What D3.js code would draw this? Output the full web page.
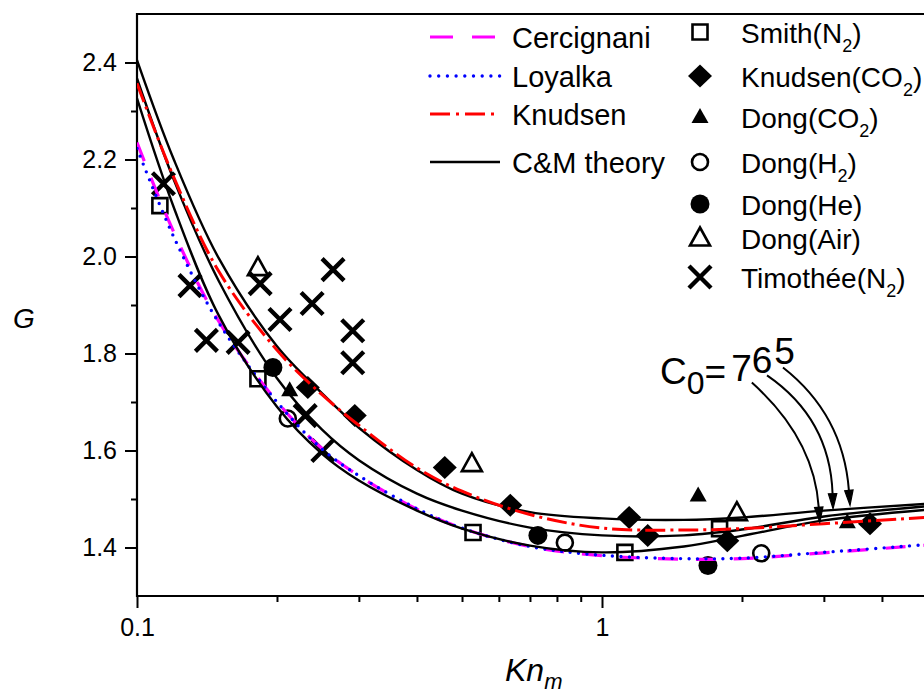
<!DOCTYPE html>
<html><head><meta charset="utf-8">
<script src="https://cdn.jsdelivr.net/npm/d3@7"></script>
<style>
body{margin:0;background:#fff}
svg{display:block}
text{font-family:"Liberation Sans",Arial,sans-serif;fill:#000}
</style>
</head><body>
<svg id="chart" width="924" height="694"></svg>
<script>
// ---------- data ----------
const knGrid      = [0.1, 0.12, 0.15, 0.2, 0.25, 0.3, 0.4, 0.5, 0.7, 1, 1.5, 2, 3, 5];
const cercignaniG = [2.235, 2.050, 1.866, 1.701, 1.604, 1.548, 1.479, 1.440, 1.402, 1.383, 1.376, 1.377, 1.389, 1.405];
const loyalkaG    = [2.223, 2.040, 1.863, 1.700, 1.603, 1.548, 1.480, 1.440, 1.402, 1.384, 1.377, 1.378, 1.390, 1.406];
const knudsenG    = [2.357, 2.163, 1.969, 1.807, 1.715, 1.652, 1.564, 1.516, 1.468, 1.440, 1.436, 1.439, 1.449, 1.462];
const cm5G        = [2.405, 2.200, 1.996, 1.815, 1.718, 1.647, 1.560, 1.511, 1.473, 1.460, 1.457, 1.462, 1.476, 1.490];
const cm6G        = [2.367, 2.158, 1.949, 1.749, 1.643, 1.580, 1.511, 1.476, 1.441, 1.425, 1.425, 1.437, 1.464, 1.485];
const cm7G        = [2.326, 2.101, 1.878, 1.690, 1.593, 1.538, 1.476, 1.439, 1.404, 1.390, 1.402, 1.424, 1.456, 1.478];

const smithN2    = [[0.112,2.105],[0.182,1.748],[0.528,1.431],[1.12,1.39],[1.79,1.439]];
const knudsenCO2 = [[0.233,1.73],[0.294,1.672],[0.459,1.565],[0.635,1.487],[1.144,1.462],[1.254,1.425],[1.86,1.414],[3.77,1.449]];
const dongCO2    = [[0.213,1.724],[1.61,1.507],[3.37,1.452]];
const dongH2     = [[0.211,1.666],[0.832,1.41],[2.2,1.388]];
const dongHe     = [[0.196,1.771],[0.728,1.425],[1.69,1.363]];
const dongAir    = [[0.182,1.977],[0.525,1.573],[1.95,1.472]];
const timotheeN2 = [[0.114,2.15],[0.130,1.94],[0.141,1.827],[0.165,1.823],[0.184,1.944],[0.203,1.87],[0.238,1.903],[0.264,1.973],[0.291,1.847],[0.291,1.781],[0.23,1.672],[0.251,1.60]];

const yMajorTicks = [1.4, 1.6, 1.8, 2.0, 2.2, 2.4];
const yMinorTicks = [1.5, 1.7, 1.9, 2.1, 2.3];
const xMajorTicks = [0.1, 1];
const xMinorTicks = [0.2,0.3,0.4,0.5,0.6,0.7,0.8,0.9,2,3,4];

// annotation arrows (data coords): start, control, end
const arrowsC0 = [
  {c0:7, p0:[2.10,1.740], c:[2.857,1.625], p2:[2.94,1.452]},
  {c0:6, p0:[2.264,1.755], c:[3.093,1.666], p2:[3.14,1.480]},
  {c0:5, p0:[2.45,1.771], c:[3.30,1.674], p2:[3.415,1.487]}
];
const annotAnchor = [1.333, 1.738];

// ---------- chart ----------
const svg = d3.select("#chart");
svg.append("rect").attr("width",924).attr("height",694).attr("fill","#fff");

const x = d3.scaleLog().domain([0.1, 5]).range([137, 137 + 465*Math.log10(50)]);
const y = d3.scaleLinear().domain([1.3, 2.5]).range([596, 14]);
const X0 = 137, XR = 924, YT = 14, YB = 596;

svg.append("defs").append("clipPath").attr("id","plotclip")
  .append("rect").attr("x",X0).attr("y",YT).attr("width",XR-X0).attr("height",YB-YT);

// axes
function styleAxis(g){
  g.select(".domain").remove();
  g.selectAll(".tick line").attr("stroke","#000").attr("stroke-width",2);
  g.selectAll(".tick text").attr("font-size",25).attr("font-family","'Liberation Sans',Arial,sans-serif").attr("fill","#000");
}
svg.append("g").attr("transform",`translate(${X0},0)`)
  .call(d3.axisLeft(y).tickValues(yMajorTicks).tickSize(12).tickPadding(8).tickFormat(d3.format(".1f")))
  .call(styleAxis);
svg.append("g").attr("transform",`translate(${X0},0)`)
  .call(d3.axisLeft(y).tickValues(yMinorTicks).tickSize(6).tickFormat(""))
  .call(styleAxis);
svg.append("g").attr("transform",`translate(0,${YB})`)
  .call(d3.axisBottom(x).tickValues(xMajorTicks).tickSize(12).tickPadding(10).tickFormat(d => d < 0.5 ? "0.1" : "1"))
  .call(styleAxis);
svg.append("g").attr("transform",`translate(0,${YB})`)
  .call(d3.axisBottom(x).tickValues(xMinorTicks).tickSize(6).tickFormat(""))
  .call(styleAxis);

// frame
const frame = svg.append("g").attr("stroke","#000").attr("stroke-width",2.2).attr("fill","none");
frame.append("line").attr("x1",X0).attr("x2",XR).attr("y1",YT).attr("y2",YT);
frame.append("line").attr("x1",X0).attr("x2",X0).attr("y1",YT-1).attr("y2",YB+1);
frame.append("line").attr("x1",X0-1).attr("x2",XR).attr("y1",YB).attr("y2",YB);

// axis labels
svg.append("text").attr("x",13).attr("y",328).attr("font-size",28).attr("font-style","italic").text("G");
const xl = svg.append("text").attr("x",505).attr("y",681).attr("font-size",32).attr("font-style","italic");
xl.append("tspan").text("Kn");
xl.append("tspan").attr("dy",8).attr("font-size",22).text("m");

// markers
function markerPath(type){
  const circ = r => `M${r},0A${r},${r} 0 1,1 ${-r},0A${r},${r} 0 1,1 ${r},0Z`;
  switch(type){
    case "square": return "M-7.5,-7.5H7.5V7.5H-7.5Z";
    case "diamond": return "M0,-11.5L12,0L0,11.5L-12,0Z";
    case "tri": return "M0,-9L8.5,6H-8.5Z";
    case "otri": return "M0,-10.5L10,7.5H-10Z";
    case "ocirc": return circ(8);
    case "fcirc": return circ(9.5);
    case "x": return "M-11,-11L11,11M11,-11L-11,11";
  }
}
const markerStyle = {
  square:{fill:"none",stroke:"#000",sw:2.6},
  diamond:{fill:"#000",stroke:"none",sw:0},
  tri:{fill:"#000",stroke:"none",sw:0},
  otri:{fill:"none",stroke:"#000",sw:2.6},
  ocirc:{fill:"none",stroke:"#000",sw:2.6},
  fcirc:{fill:"#000",stroke:"none",sw:0},
  x:{fill:"none",stroke:"#000",sw:4.4}
};
const markerSeries = [
  {name:"Smith", sub:"N", subn:"2", type:"square", data:smithN2},
  {name:"Knudsen", sub:"CO", subn:"2", type:"diamond", data:knudsenCO2},
  {name:"Dong", sub:"CO", subn:"2", type:"tri", data:dongCO2},
  {name:"Dong", sub:"H", subn:"2", type:"ocirc", data:dongH2},
  {name:"Dong", sub:"He", subn:"", type:"fcirc", data:dongHe},
  {name:"Dong", sub:"Air", subn:"", type:"otri", data:dongAir},
  {name:"Timothée", sub:"N", subn:"2", type:"x", data:timotheeN2}
];
function drawMarker(sel, type){
  const st = markerStyle[type];
  sel.attr("d", markerPath(type)).attr("fill",st.fill).attr("stroke",st.stroke)
     .attr("stroke-width",st.sw).attr("stroke-linejoin","miter");
}
const gm = svg.append("g");
markerSeries.forEach(s => {
  gm.selectAll(null).data(s.data).enter().append("path")
    .attr("transform", d => `translate(${x(d[0])},${y(d[1])})`)
    .call(drawMarker, s.type);
});

// lines
const lineGen = d3.line().x(d => x(d[0])).y(d => y(d[1])).curve(d3.curveCatmullRom.alpha(0.5));
const lineSeries = [
  {name:"Cercignani", vals:cercignaniG, color:"#ff00ff", w:3.2, dash:"20,18", cap:"butt"},
  {name:"Loyalka", vals:loyalkaG, color:"#0000ff", w:3.4, dash:"0,8.5", cap:"round"},
  {name:"C&M5", vals:cm5G, color:"#000", w:2.4, dash:null, cap:"butt"},
  {name:"C&M6", vals:cm6G, color:"#000", w:2.4, dash:null, cap:"butt"},
  {name:"C&M7", vals:cm7G, color:"#000", w:2.4, dash:null, cap:"butt"},
  {name:"Knudsen", vals:knudsenG, color:"#ff0000", w:3, dash:"20,5,3,5", cap:"butt"}
];
const gl = svg.append("g").attr("clip-path","url(#plotclip)");
lineSeries.forEach(s => {
  gl.append("path").datum(knGrid.map((k,i)=>[k, s.vals[i]]))
    .attr("d", lineGen).attr("fill","none").attr("stroke",s.color)
    .attr("stroke-width",s.w).attr("stroke-dasharray",s.dash).attr("stroke-linecap",s.cap);
});

// annotation
const an = svg.append("text").attr("x",x(annotAnchor[0])).attr("y",y(annotAnchor[1])).attr("font-size",37);
an.append("tspan").text("C");
an.append("tspan").attr("dy",10).attr("font-size",32).text("0");
an.append("tspan").attr("dy",-10).text("=");
an.append("tspan").attr("dx",5).attr("dy",-3).text("7");
an.append("tspan").attr("dy",-8).text("6");
an.append("tspan").attr("dx",2).attr("dy",-9).text("5");

const ga = svg.append("g");
arrowsC0.forEach(a => {
  const P0=[x(a.p0[0]),y(a.p0[1])], C=[x(a.c[0]),y(a.c[1])], P2=[x(a.p2[0]),y(a.p2[1])];
  const dx=P2[0]-C[0], dy=P2[1]-C[1], L=Math.hypot(dx,dy), ux=dx/L, uy=dy/L;
  const hl=15, hw=4.2;
  const B=[P2[0]-ux*hl, P2[1]-uy*hl];
  ga.append("path").attr("d",`M${P0[0]},${P0[1]}Q${C[0]},${C[1]} ${B[0]},${B[1]}`)
    .attr("fill","none").attr("stroke","#000").attr("stroke-width",2);
  ga.append("path").attr("d",`M${P2[0]},${P2[1]}L${B[0]-uy*hw},${B[1]+ux*hw}L${B[0]+uy*hw},${B[1]-ux*hw}Z`)
    .attr("fill","#000").attr("stroke","#000").attr("stroke-width",1.2);
});

// legend – lines
const legLines = [
  {label:"Cercignani", s:lineSeries[0], y:37, dash:"23,19"},
  {label:"Loyalka", s:lineSeries[1], y:76, dash:"0,8.7"},
  {label:"Knudsen", s:lineSeries[5], y:114, dash:"20,6,3,6"},
  {label:"C&M theory", s:lineSeries[2], y:162, dash:null}
];
const lg = svg.append("g");
legLines.forEach(l => {
  lg.append("line").attr("x1",430).attr("x2",500).attr("y1",l.y).attr("y2",l.y)
    .attr("stroke",l.s.color).attr("stroke-width",l.s.w).attr("stroke-dasharray",l.dash)
    .attr("stroke-linecap",l.s.cap);
  lg.append("text").attr("x",512).attr("y",l.y+11).attr("font-size",29).text(l.label);
});
// legend – markers
const legMY = [32, 76, 117, 162, 204, 238, 277];
markerSeries.forEach((s,i) => {
  lg.append("path").attr("transform",`translate(700,${legMY[i]})`).call(drawMarker, s.type);
  const t = lg.append("text").attr("x",741).attr("y",legMY[i]+10.5).attr("font-size",28);
  t.append("tspan").text(`${s.name}(${s.sub}`);
  if (s.subn){
    t.append("tspan").attr("dy",9).attr("font-size",18).text(s.subn);
    t.append("tspan").attr("dy",-9).text(")");
  } else {
    t.append("tspan").text(")");
  }
});
</script>
</body></html>
